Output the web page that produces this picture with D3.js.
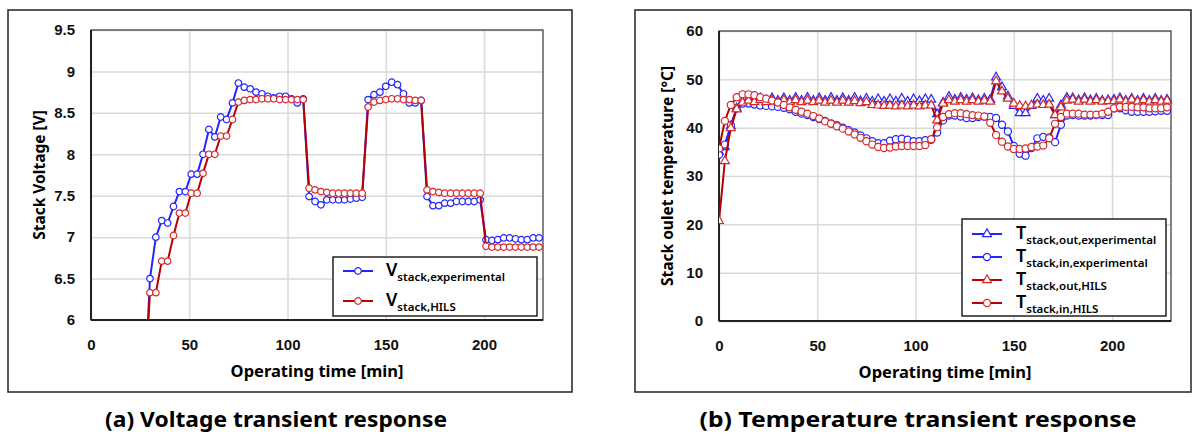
<!DOCTYPE html>
<html>
<head>
<meta charset="utf-8">
<script src="https://cdn.jsdelivr.net/npm/d3@7/dist/d3.min.js"></script>
<style>
body { margin: 0; background: #fff; }
svg { display: block; font-family: "Noto Sans", "Open Sans", sans-serif; }
</style>
</head>
<body>
<svg width="1194" height="437"></svg>
<script>
// (a) voltage: time [min] and stack voltage [V]
var timeV = [27, 30, 33, 36, 39, 42, 45, 48, 51, 54, 57, 60, 63, 66, 69, 72, 75, 78, 81, 84, 87, 90, 93, 96, 99, 102, 105, 108,
  111, 114, 117, 120, 123, 126, 129, 132, 135, 138, 141, 144, 147, 150, 153, 156, 159, 162, 165, 168,
  171, 174, 177, 180, 183, 186, 189, 192, 195, 198, 201, 204, 207, 210, 213, 216, 219, 222, 225, 228];
var vExp = [5.0, 6.50, 7.00, 7.20, 7.17, 7.37, 7.55, 7.55, 7.76, 7.76, 8.00, 8.30, 8.21, 8.45, 8.42, 8.62, 8.86, 8.81, 8.79, 8.75, 8.73, 8.70, 8.68, 8.70, 8.70, 8.67, 8.62, 8.67,
  7.49, 7.43, 7.39, 7.45, 7.45, 7.45, 7.45, 7.46, 7.47, 7.48,
  8.66, 8.72, 8.75, 8.82, 8.87, 8.84, 8.73, 8.62, 8.62, 8.65,
  7.49, 7.38, 7.38, 7.41, 7.41, 7.43, 7.43, 7.43, 7.43, 7.45,
  6.97, 6.96, 6.97, 6.99, 6.99, 6.98, 6.97, 6.97, 6.99, 6.99];
var vHils = [5.0, 6.33, 6.33, 6.71, 6.71, 7.02, 7.29, 7.29, 7.53, 7.53, 7.77, 8.00, 8.00, 8.22, 8.22, 8.42, 8.63, 8.65, 8.66, 8.66, 8.67, 8.67, 8.67, 8.66, 8.66, 8.66, 8.66, 8.66,
  7.59, 7.57, 7.55, 7.54, 7.53, 7.53, 7.53, 7.53, 7.53, 7.53,
  8.57, 8.63, 8.65, 8.66, 8.67, 8.67, 8.66, 8.66, 8.65, 8.65,
  7.57, 7.55, 7.54, 7.53, 7.53, 7.53, 7.53, 7.53, 7.53, 7.53,
  6.89, 6.88, 6.88, 6.88, 6.88, 6.88, 6.88, 6.88, 6.88, 6.88];

// (b) temperature: time [min] and stack temperatures [degC]
var timeT = [0, 3, 6, 9, 12, 15, 18, 21, 24, 27, 30, 33, 36, 39, 42, 45, 48, 51, 54, 57, 60, 63, 66, 69, 72, 75, 78, 81, 84, 87, 90, 93, 96, 99, 102, 105, 108,
  111, 114, 117, 120, 123, 126, 129, 132, 135, 138, 141, 144, 147, 150, 153, 156, 159, 162, 165, 168,
  171, 174, 177, 180, 183, 186, 189, 192, 195, 198, 201, 204, 207, 210, 213, 216, 219, 222, 225, 228];
var tOutExp = [35.0, 36.0, 40.3, 44.0, 45.3, 46.0, 45.5, 46.1, 45.6, 46.1, 45.6, 46.1, 45.6, 46.2, 45.6, 46.2, 45.6, 46.1, 45.6, 46.2, 45.6, 46.1, 45.6, 46.2, 45.5, 46.0, 45.4, 45.9, 45.4, 45.9, 45.4, 46.0, 45.4, 45.9, 45.5, 45.9, 45.8,
  42.8, 45.2, 46.4, 45.8, 46.2, 45.8, 46.1, 45.7, 46.0, 45.8,
  50.4, 48.4, 46.5, 44.5, 43.0, 43.0, 44.5, 46.0, 45.6, 46.0,
  42.6, 44.6, 46.2, 46.1, 45.7, 46.1, 45.7, 46.0, 45.6, 45.7,
  45.8, 46.1, 45.6, 46.0, 45.6, 46.0, 45.6, 46.0, 45.6, 45.8];
var tInExp = [34.4, 36.5, 40.5, 44.0, 45.0, 45.0, 44.8, 44.6, 44.5, 44.4, 44.3, 44.1, 43.8, 43.3, 42.9, 42.6, 42.2, 41.8, 41.4, 40.9, 40.5, 40.0, 39.5, 39.0, 38.4, 37.8, 37.2, 36.8, 36.8, 37.3, 37.6, 37.7, 37.5, 37.2, 37.2, 37.4, 37.5,
  39.0, 41.5, 42.5, 42.5, 42.3, 42.0, 42.0, 42.2, 42.3, 42.2,
  42.0, 40.6, 39.2, 36.2, 34.6, 34.2, 35.8, 37.8, 38.1, 38.0,
  37.0, 40.6, 42.5, 42.6, 42.5, 42.5, 42.5, 42.6, 42.6, 42.6,
  44.0, 44.0, 43.6, 43.3, 43.3, 43.3, 43.3, 43.4, 43.5, 43.5];
var tOutHils = [20.7, 33.1, 39.9, 43.8, 45.2, 45.6, 45.3, 45.7, 45.3, 45.7, 45.3, 45.7, 45.3, 45.7, 45.3, 45.6, 45.3, 45.6, 45.2, 45.6, 45.2, 45.6, 45.2, 45.5, 45.1, 45.3, 44.7, 44.6, 44.5, 44.6, 44.4, 44.6, 44.4, 44.6, 44.4, 44.6, 44.6,
  41.5, 45.0, 45.7, 45.4, 45.7, 45.4, 45.7, 45.4, 45.6, 45.4,
  49.6, 47.5, 46.0, 45.0, 44.5, 44.4, 44.6, 44.8, 44.7, 44.8,
  42.6, 44.2, 45.6, 45.8, 45.4, 45.8, 45.4, 45.7, 45.4, 45.5,
  45.5, 45.8, 45.4, 45.8, 45.4, 45.7, 45.4, 45.7, 45.4, 45.6];
var tInHils = [35.7, 41.4, 44.7, 46.3, 46.9, 46.9, 46.7, 46.3, 46.0, 45.6, 45.2, 44.7, 44.2, 43.7, 43.3, 42.9, 42.4, 41.9, 41.3, 40.8, 40.3, 39.8, 39.2, 38.6, 37.9, 37.2, 36.5, 36.0, 35.8, 35.9, 36.1, 36.2, 36.2, 36.2, 36.2, 36.4, 37.6,
  40.1, 42.2, 42.8, 43.0, 43.0, 42.8, 42.6, 42.5, 42.3, 41.0,
  38.5, 37.1, 36.1, 35.6, 35.6, 35.7, 36.0, 36.1, 36.3, 37.8,
  40.8, 42.2, 42.9, 42.9, 42.9, 42.7, 42.7, 42.7, 42.9, 43.3,
  44.0, 44.3, 44.3, 44.3, 44.2, 44.2, 44.0, 44.0, 44.0, 44.2];

var xTicks = [0, 50, 100, 150, 200];
var vTicks = [6, 6.5, 7, 7.5, 8, 8.5, 9, 9.5];
var tTicks = [0, 10, 20, 30, 40, 50, 60];

var blue = "#2424ff", red = "#b80000", redMark = "#d42a2a";
var svg = d3.select("svg");

function panel(opt) {
  var g = svg.append("g");
  g.append("rect").attr("x", opt.frame[0]).attr("y", opt.frame[1])
    .attr("width", opt.frame[2]).attr("height", opt.frame[3])
    .attr("fill", "none").attr("stroke", "#222").attr("stroke-width", 1.5);

  var x = d3.scaleLinear().domain([0, 230]).range([opt.left, opt.right]);
  var y = d3.scaleLinear().domain(opt.yDomain).range([opt.bottom, opt.top]);

  var gx = g.append("g").attr("transform", "translate(0," + opt.bottom + ")")
    .call(d3.axisBottom(x).tickValues(xTicks).tickSize(-(opt.bottom - opt.top)).tickPadding(19));
  var gy = g.append("g").attr("transform", "translate(" + opt.left + ",0)")
    .call(d3.axisLeft(y).tickValues(opt.yTicks).tickSize(-(opt.right - opt.left)).tickPadding(16)
      .tickFormat(function(d) { return d; }));
  [gx, gy].forEach(function(a) {
    a.select(".domain").remove();
    a.selectAll(".tick line").attr("stroke", "#d9d9d9").attr("stroke-width", 1.5);
    a.selectAll(".tick text").attr("fill", "#111").style("font-size", "15px").style("font-weight", "700");
  });

  g.append("rect").attr("x", opt.left).attr("y", opt.top)
    .attr("width", opt.right - opt.left).attr("height", opt.bottom - opt.top)
    .attr("fill", "none").attr("stroke", "#444").attr("stroke-width", 1.3);
  g.append("line").attr("x1", opt.left).attr("x2", opt.left).attr("y1", opt.top).attr("y2", opt.bottom)
    .attr("stroke", "#222").attr("stroke-width", 2);
  g.append("line").attr("x1", opt.left).attr("x2", opt.right).attr("y1", opt.bottom).attr("y2", opt.bottom)
    .attr("stroke", "#222").attr("stroke-width", 2);

  g.append("text").attr("x", (opt.left + opt.right) / 2).attr("y", opt.bottom + 57)
    .attr("text-anchor", "middle").style("font-size", "16.5px").style("font-weight", "700")
    .text("Operating time [min]");
  g.append("text").attr("transform", "translate(" + opt.yTitleX + "," + ((opt.top + opt.bottom) / 2) + ") rotate(-90)")
    .attr("text-anchor", "middle").attr("dy", "0.35em").style("font-size", "15.5px").style("font-weight", "700")
    .text(opt.yTitle);

  g.append("text").attr("x", opt.caption[1]).attr("y", 427).attr("text-anchor", "middle")
    .style("font-size", "22px").style("font-weight", "700")
    .attr("textLength", opt.caption[2]).attr("lengthAdjust", "spacingAndGlyphs")
    .text(opt.caption[0]);

  var clipId = "clip" + opt.left;
  g.append("clipPath").attr("id", clipId).append("rect")
    .attr("x", opt.left).attr("y", opt.top - 6)
    .attr("width", opt.right - opt.left + 6).attr("height", opt.bottom - opt.top + 6);
  var plot = g.append("g").attr("clip-path", "url(#" + clipId + ")");

  opt.series.forEach(function(s) {
    var pts = opt.time.map(function(t, i) { return [t, s.values[i]]; });
    plot.append("path").datum(pts)
      .attr("fill", "none").attr("stroke", s.line).attr("stroke-width", 2)
      .attr("d", d3.line().x(function(d) { return x(d[0]); }).y(function(d) { return y(d[1]); }));
    plot.selectAll(null).data(pts).enter().append("path")
      .attr("transform", function(d) { return "translate(" + x(d[0]) + "," + y(d[1]) + ")"; })
      .attr("d", d3.symbol().type(s.shape).size(s.size))
      .attr("fill", "#fff").attr("stroke", s.mark).attr("stroke-width", 1.2);
  });

  var lg = g.append("g");
  lg.append("rect").attr("x", opt.legend[0]).attr("y", opt.legend[1])
    .attr("width", opt.legend[2]).attr("height", opt.legend[3])
    .attr("fill", "#fff").attr("stroke", "#222").attr("stroke-width", 1.5);
  opt.series.forEach(function(s, i) {
    var ly = opt.legend[1] + opt.legendRow0 + i * opt.legendStep;
    var lx = opt.legend[0] + 10;
    lg.append("line").attr("x1", lx).attr("x2", lx + 30).attr("y1", ly).attr("y2", ly)
      .attr("stroke", s.line).attr("stroke-width", 2);
    lg.append("path").attr("transform", "translate(" + (lx + 15) + "," + ly + ")")
      .attr("d", d3.symbol().type(s.shape).size(s.size))
      .attr("fill", "#fff").attr("stroke", s.mark).attr("stroke-width", 1.2);
    var tx = lg.append("text").attr("x", lx + opt.legendTextDx).attr("y", ly + 5).style("font-weight", "600");
    tx.append("tspan").style("font-size", opt.legendBig + "px").text(s.symbol);
    tx.append("tspan").attr("dy", 5).style("font-size", "11.5px").text(s.sub);
  });
}

panel({
  frame: [8, 10, 564, 382],
  left: 91, right: 543, top: 30, bottom: 320,
  yDomain: [6, 9.5], yTicks: vTicks,
  yTitle: "Stack Voltage [V]", yTitleX: 40,
  caption: ["(a) Voltage transient response", 276, 342],
  time: timeV,
  series: [
    { values: vExp, line: blue, mark: blue, shape: d3.symbolCircle, size: 34, symbol: "V", sub: "stack,experimental" },
    { values: vHils, line: red, mark: redMark, shape: d3.symbolCircle, size: 34, symbol: "V", sub: "stack,HILS" }
  ],
  legend: [333, 257, 204, 59], legendRow0: 14, legendStep: 30, legendTextDx: 43, legendBig: 18
});

panel({
  frame: [635, 10, 556, 382],
  left: 719, right: 1171, top: 31, bottom: 321,
  yDomain: [0, 60], yTicks: tTicks,
  yTitle: "Stack oulet temperature [\u00b0C]", yTitleX: 668,
  caption: ["(b) Temperature transient response", 918, 437],
  time: timeT,
  series: [
    { values: tOutExp, line: blue, mark: blue, shape: d3.symbolTriangle, size: 34, symbol: "T", sub: "stack,out,experimental" },
    { values: tInExp, line: blue, mark: blue, shape: d3.symbolCircle, size: 40, symbol: "T", sub: "stack,in,experimental" },
    { values: tOutHils, line: red, mark: redMark, shape: d3.symbolTriangle, size: 34, symbol: "T", sub: "stack,out,HILS" },
    { values: tInHils, line: red, mark: redMark, shape: d3.symbolCircle, size: 40, symbol: "T", sub: "stack,in,HILS" }
  ],
  legend: [962, 219, 204, 97], legendRow0: 15, legendStep: 23, legendTextDx: 44, legendBig: 18
});
</script>
</body>
</html>
